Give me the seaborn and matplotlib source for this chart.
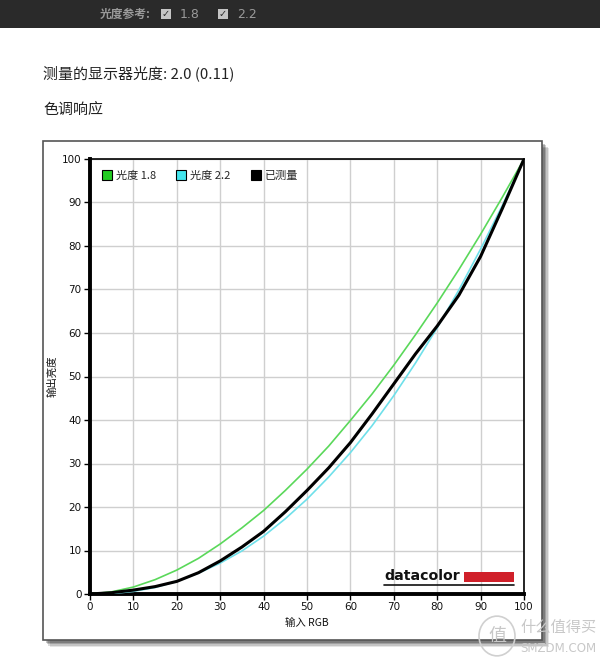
import matplotlib
matplotlib.use("Agg")
import matplotlib.pyplot as plt
import seaborn as sns
import pandas as pd
from matplotlib.patches import Rectangle, Circle
from matplotlib.lines import Line2D

# ---- data ----
rgb_in = [0, 5, 10, 15, 20, 25, 30, 35, 40, 45, 50, 55, 60, 65, 70, 75, 80, 85, 90, 95, 100]
gamma18 = [0, 0.5, 1.6, 3.3, 5.5, 8.2, 11.5, 15.2, 19.2, 23.8, 28.7, 34.0, 39.9, 46.0, 52.6, 59.6, 66.9, 74.6, 82.7, 91.2, 100]
gamma22 = [0, 0.1, 0.6, 1.5, 2.9, 4.8, 7.1, 9.9, 13.3, 17.3, 21.8, 26.9, 32.5, 38.7, 45.6, 53.1, 61.2, 69.9, 79.3, 89.3, 100]
measured = [0, 0.3, 0.9, 1.7, 2.9, 4.9, 7.6, 10.8, 14.4, 18.9, 23.8, 29.0, 34.8, 41.4, 48.3, 55.2, 61.6, 68.7, 77.6, 88.6, 100]
series_names = ["光度 1.8", "光度 2.2", "已测量"]
series_colors = ["#5ad85a", "#6fe0ea", "#000000"]
legend_face = ["#22cc22", "#44e6ee", "#000000"]
ticks = [0, 10, 20, 30, 40, 50, 60, 70, 80, 90, 100]

sns.set_theme(style="white")
plt.rcParams["font.family"] = ["Noto Sans CJK SC", "DejaVu Sans"]

W, H = 600, 662
fig = plt.figure(figsize=(W / 100, H / 100), dpi=100)

def fx(px):
    return px / W

def fy(py):
    return 1 - py / H

# top dark bar
fig.patches.append(Rectangle((0, fy(28)), 1, 28 / H, transform=fig.transFigure,
                             facecolor="#2a2a2a", edgecolor="none", zorder=0))
fig.text(fx(100), fy(14), "光度参考:", color="#9a9a9a", fontsize=8.5, va="center", ha="left",
         fontweight="bold")
for bx, lab in [(161, "1.8"), (218, "2.2")]:
    fig.patches.append(Rectangle((fx(bx), fy(19)), 10 / W, 10 / H, transform=fig.transFigure,
                                 facecolor="#c4c4c4", edgecolor="none", zorder=1))
    fig.text(fx(bx + 5), fy(14), "✓", color="#2a2a2a", fontsize=7, ha="center", va="center",
             family=["DejaVu Sans"], fontweight="bold")
    fig.text(fx(bx + 19), fy(14), lab, color="#9a9a9a", fontsize=9, va="center", ha="left",
             family=["DejaVu Sans"])

fig.text(fx(43), fy(73), "测量的显示器光度: 2.0 (0.11)", color="#222222", fontsize=10.8, va="center", ha="left")
fig.text(fx(43), fy(110), "色调响应", color="#222222", fontsize=10.8, va="center", ha="left")

# chart frame with shadow
for i, a in enumerate([0.10, 0.14, 0.18, 0.22]):
    off = 7 - i * 1.5
    fig.patches.append(Rectangle((fx(43 + off), fy(640 + off)), 499 / W, 499 / H,
                                 transform=fig.transFigure, facecolor="#000000", alpha=a,
                                 edgecolor="none", zorder=1))
fig.patches.append(Rectangle((fx(43), fy(640)), 499 / W, 499 / H, transform=fig.transFigure,
                             facecolor="white", edgecolor="#555555", linewidth=1.2, zorder=2))

ax = fig.add_axes([fx(90), fy(594), (524 - 90) / W, (594 - 159) / H], zorder=3)

df = pd.DataFrame({
    "x": rgb_in * 3,
    "y": gamma18 + gamma22 + measured,
    "s": [series_names[0]] * len(rgb_in) + [series_names[1]] * len(rgb_in) + [series_names[2]] * len(rgb_in),
})
sns.lineplot(data=df[df.s == series_names[0]], x="x", y="y", color=series_colors[0], lw=1.2, ax=ax, zorder=3)
sns.lineplot(data=df[df.s == series_names[1]], x="x", y="y", color=series_colors[1], lw=1.2, ax=ax, zorder=3)
sns.lineplot(data=df[df.s == series_names[2]], x="x", y="y", color=series_colors[2], lw=2.2, ax=ax, zorder=4)
for ln in ax.lines:
    ln.set_solid_joinstyle("round")
    ln.set_solid_capstyle("round")

ax.set_xlim(0, 100)
ax.set_ylim(0, 100)
ax.set_xticks(ticks)
ax.set_yticks(ticks)
ax.grid(True, color="#cfcfcf", linewidth=1.0)
ax.set_axisbelow(True)
for side in ["left", "bottom"]:
    ax.spines[side].set_linewidth(2.8)
    ax.spines[side].set_color("black")
for side in ["top", "right"]:
    ax.spines[side].set_linewidth(1.2)
    ax.spines[side].set_color("black")
ax.tick_params(axis="both", which="both", length=4, width=1, color="black", labelsize=7.5,
               labelcolor="#111111", left=True, bottom=True, pad=2)
for lab in ax.get_xticklabels() + ax.get_yticklabels():
    lab.set_family(["DejaVu Sans"])
ax.set_xlabel("输入 RGB", fontsize=7.5, labelpad=4, color="#111111")
ax.set_ylabel("输出亮度", fontsize=7.5, labelpad=3, color="#111111")

handles = [Line2D([0], [0], marker="s", linestyle="none", markersize=7, markerfacecolor=c,
                  markeredgecolor="black", markeredgewidth=0.8) for c in legend_face]
ax.legend(handles, series_names, loc="upper left", ncol=3, frameon=False, fontsize=8,
          handletextpad=0.2, columnspacing=1.7, handlelength=1.2, bbox_to_anchor=(0.0, 0.995),
          borderaxespad=0.5)

# datacolor logo
ax.text(0.678, 0.026, "datacolor", transform=ax.transAxes, fontsize=10.2, fontweight="heavy",
        color="#111111", ha="left", va="bottom", family=["DejaVu Sans"], zorder=5)
ax.add_patch(Rectangle((0.862, 0.028), 0.115, 0.022, transform=ax.transAxes,
                       facecolor="#d0202a", edgecolor="none", zorder=5))
ax.add_line(Line2D([0.678, 0.977], [0.020, 0.020], transform=ax.transAxes, color="#111111",
                   lw=1.2, zorder=5))

# watermark
fig.patches.append(Circle((fx(497), fy(636)), 18 / W, transform=fig.transFigure,
                          facecolor="none", edgecolor="#d0d0d0", linewidth=1.2, zorder=6))
fig.text(fx(497), fy(636), "值", color="#c8c8c8", fontsize=13, ha="center", va="center", zorder=6)
fig.text(fx(520), fy(627), "什么值得买", color="#c8c8c8", fontsize=11, ha="left", va="center", zorder=6)
fig.text(fx(520), fy(649), "SMZDM.COM", color="#c8c8c8", fontsize=8.5, ha="left", va="center",
         family=["DejaVu Sans"], zorder=6)

fig.savefig("out.png", dpi=100, facecolor="white")
